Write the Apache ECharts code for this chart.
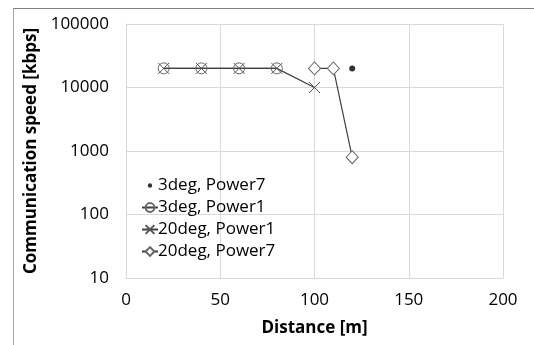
<!DOCTYPE html>
<html>
<head>
<meta charset="utf-8">
<script src="https://cdn.jsdelivr.net/npm/echarts@6/dist/echarts.min.js"></script>
<style>
  html, body { margin: 0; padding: 0; background: #fff; }
  #frame { position: absolute; left: 13px; top: 8px; width: 540px; height: 360px; border-left: 1px solid #a6a6a6; border-top: 1px solid #7f7f7f; }
  #chart { position: absolute; left: 0; top: 0; width: 534px; height: 345px; }
</style>
</head>
<body>
<div id="frame"></div>
<div id="chart"></div>
<script>
// distance [m] vs communication speed [kbps]
const deg3Power7 = [[120, 20000]];
const deg3Power1 = [[20, 20000], [40, 20000], [60, 20000], [80, 20000]];
const deg20Power1 = [[20, 20000], [40, 20000], [60, 20000], [80, 20000], [100, 10000]];
const deg20Power7 = [[100, 20000], [110, 20000], [120, 800]];
const seriesNames = ["3deg, Power7", "3deg, Power1", "20deg, Power1", "20deg, Power7"];

const font = "Open Sans";
const lineColor = "#404040";
const crossSymbol = "path://M0,0L10,10M10,0L0,10";
// small dot inside a 10x10 box so the legend icon stays small
const smallDot = "path://M0,0L0,0.01ZM10,10L10,10.01ZM7,5A2,2 0 1,1 3,5A2,2 0 1,1 7,5Z";

const chart = echarts.init(document.getElementById("chart"));
chart.setOption({
  animation: false,
  textStyle: {fontFamily: font},
  grid: {left: 126, right: 31, top: 24, bottom: 67},
  legend: {
    orient: "vertical",
    left: 136,
    top: 172,
    itemWidth: 16,
    itemHeight: 11,
    itemGap: 5,
    data: [
      {name: seriesNames[0], icon: smallDot},
      seriesNames[1], seriesNames[2], seriesNames[3]
    ],
    textStyle: {fontFamily: font, fontSize: 17, color: "#000", padding: [0, 0, 0, -5]}
  },
  xAxis: {
    type: "value",
    min: 0,
    max: 200,
    interval: 50,
    name: "Distance [m]",
    nameLocation: "middle",
    nameGap: 42,
    nameTextStyle: {fontFamily: font, fontSize: 17, fontWeight: "bold", color: "#000"},
    axisLine: {lineStyle: {color: "#d9d9d9"}},
    axisTick: {show: false},
    axisLabel: {fontSize: 17, color: "#000", margin: 14},
    splitLine: {lineStyle: {color: "#d9d9d9"}}
  },
  yAxis: {
    type: "log",
    logBase: 10,
    min: 10,
    max: 100000,
    name: "Communication speed [kbps]",
    nameLocation: "middle",
    nameGap: 78,
    nameTextStyle: {fontFamily: font, fontSize: 17, fontWeight: "bold", color: "#000"},
    axisLine: {show: true, lineStyle: {color: "#d9d9d9"}},
    axisTick: {show: false},
    axisLabel: {fontSize: 17, color: "#000", margin: 17, formatter: v => String(Math.round(v))},
    splitLine: {lineStyle: {color: "#d9d9d9"}}
  },
  series: [
    {
      name: seriesNames[0],
      type: "scatter",
      data: deg3Power7,
      symbol: "circle",
      symbolSize: 6,
      itemStyle: {color: "#000"}
    },
    {
      name: seriesNames[1],
      type: "line",
      data: deg3Power1,
      symbol: "circle",
      symbolSize: 11,
      showAllSymbol: true,
      lineStyle: {color: lineColor, width: 1.2},
      itemStyle: {color: "rgba(255,255,255,0)", borderColor: "#666", borderWidth: 1}
    },
    {
      name: seriesNames[2],
      type: "line",
      data: deg20Power1,
      symbol: crossSymbol,
      symbolSize: 11,
      showAllSymbol: true,
      lineStyle: {color: lineColor, width: 1.2},
      itemStyle: {color: "none", borderColor: "#555", borderWidth: 1}
    },
    {
      name: seriesNames[3],
      type: "line",
      data: deg20Power7,
      symbol: "diamond",
      symbolSize: [12, 13],
      showAllSymbol: true,
      lineStyle: {color: lineColor, width: 1.2},
      itemStyle: {color: "#fff", borderColor: "#666", borderWidth: 1}
    }
  ]
});
</script>
</body>
</html>
